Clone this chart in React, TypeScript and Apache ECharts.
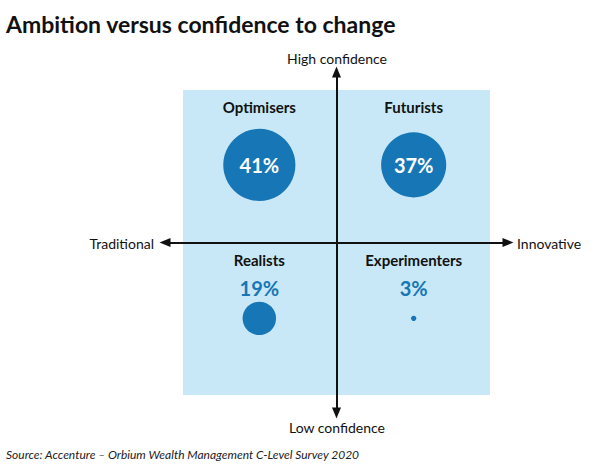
import React, { useEffect, useRef } from "react";
import * as echarts from "echarts";

const TITLE = "Ambition versus confidence to change";
const SOURCE = "Source: Accenture – Orbium Wealth Management C-Level Survey 2020";
const segments = ["Optimisers", "Futurists", "Realists", "Experimenters"];
const shares = [41, 37, 19, 3];
const bubbleX = [-0.45, 0.45, -0.45, 0.45];
const bubbleY = [0.455, 0.455, -0.445, -0.445];
const nameY = [0.795, 0.795, -0.1, -0.1];
const shareInside = [true, true, false, false];
const shareLabelY = [null, null, -0.265, -0.265];
const axisLabels = { top: "High confidence", bottom: "Low confidence", left: "Traditional", right: "Innovative" };

const BLUE = "#1776b6";
const LIGHT = "#c8e8f8";
const INK = "#111111";
const FONT = "Lato";

export default function App() {
  const ref = useRef<HTMLDivElement>(null);
  useEffect(() => {
    const chart = echarts.init(ref.current!, null, { renderer: "svg" });
    const bubbleData = segments.map((s, i) => ({
      name: s,
      value: [bubbleX[i], bubbleY[i], shares[i]],
      label: shareInside[i]
        ? { show: true, position: "inside", formatter: shares[i] + "%", color: "#fff", fontSize: 20, fontWeight: "bold", fontFamily: FONT }
        : { show: false },
    }));
    const textData: any[] = [];
    segments.forEach((s, i) => {
      textData.push({
        value: [bubbleX[i], nameY[i]],
        label: { show: true, formatter: s, color: INK, fontSize: 15, fontWeight: "bold", fontFamily: FONT, opacity: 1 },
      });
      if (!shareInside[i]) {
        textData.push({
          value: [bubbleX[i], shareLabelY[i]],
          label: { show: true, formatter: shares[i] + "%", color: BLUE, fontSize: 20, fontWeight: "bold", fontFamily: FONT, opacity: 1 },
        });
      }
    });
    const axisCommon = {
      type: "value",
      min: -1,
      max: 1,
      z: 5,
      axisLine: { show: true, onZero: true, symbol: ["triangle", "triangle"], symbolSize: [9, 11], lineStyle: { color: INK, width: 2 } },
      axisTick: { show: false },
      axisLabel: { show: false },
      splitLine: { show: false },
    };
    chart.setOption({
      animation: false,
      backgroundColor: "#ffffff",
      textStyle: { fontFamily: FONT },
      title: [
        { text: TITLE, left: 1, top: 7, textStyle: { fontFamily: FONT, fontSize: 23, fontWeight: "bold", color: INK } },
        { text: SOURCE, left: 1, top: 443, textStyle: { fontFamily: FONT, fontSize: 12, fontStyle: "italic", fontWeight: "normal", color: "#222" } },
      ],
      grid: { left: 165, right: 92, top: 72, bottom: 51 },
      xAxis: axisCommon,
      yAxis: axisCommon,
      graphic: [
        { type: "text", x: 337, y: 58, style: { text: axisLabels.top, fontFamily: FONT, fontSize: 14, fill: INK, align: "center", verticalAlign: "middle" } },
        { type: "text", x: 337, y: 427, style: { text: axisLabels.bottom, fontFamily: FONT, fontSize: 14, fill: INK, align: "center", verticalAlign: "middle" } },
        { type: "text", x: 154, y: 243, style: { text: axisLabels.left, fontFamily: FONT, fontSize: 14, fill: INK, align: "right", verticalAlign: "middle" } },
        { type: "text", x: 517, y: 243, style: { text: axisLabels.right, fontFamily: FONT, fontSize: 14, fill: INK, align: "left", verticalAlign: "middle" } },
      ],
      series: [
        {
          type: "scatter",
          z: 2,
          data: bubbleData,
          symbolSize: (v: number[]) => v[2] * 1.76,
          itemStyle: { color: BLUE, opacity: 1 },
          markArea: {
            silent: true,
            itemStyle: { color: LIGHT, opacity: 1 },
            data: [[{ coord: [-0.895, -0.894] }, { coord: [0.895, 0.894] }]],
          },
        },
        {
          type: "scatter",
          z: 3,
          symbolSize: 1,
          silent: true,
          data: textData,
          label: { show: true, position: "inside", fontFamily: FONT, opacity: 1 },
          itemStyle: { color: "#ffffff", opacity: 1, borderWidth: 0 },
        },
      ],
    });
    return () => chart.dispose();
  }, []);
  return <div ref={ref} style={{ position: "fixed", left: 0, top: 0, width: 600, height: 464 }} />;
}
